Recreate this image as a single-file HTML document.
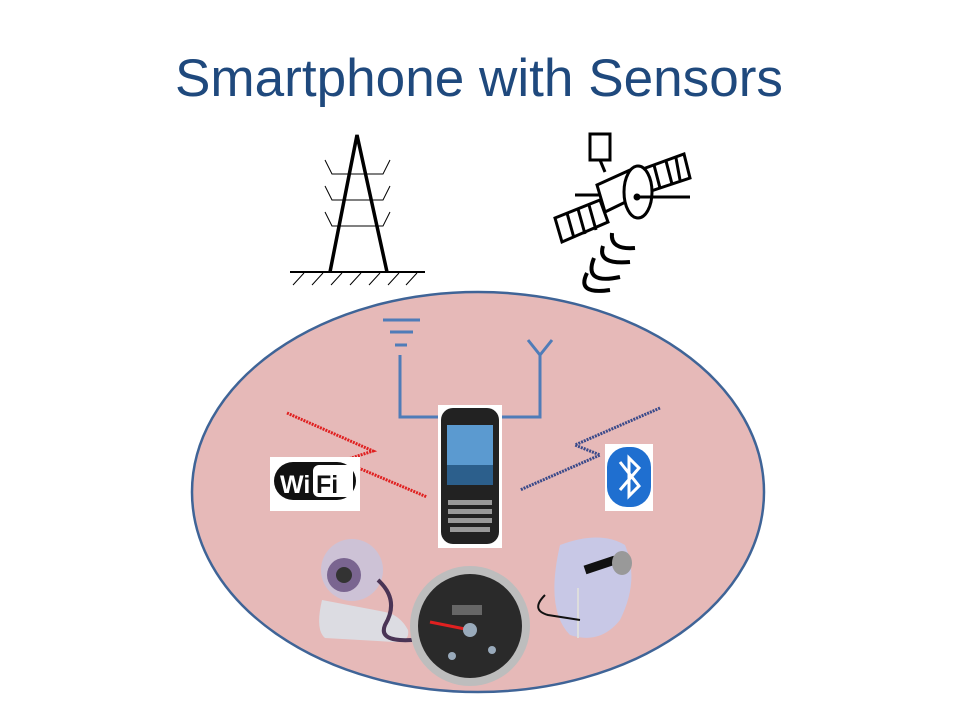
<!DOCTYPE html>
<html><head><style>html,body{margin:0;padding:0;background:#fff;width:960px;height:720px;overflow:hidden}</style></head>
<body>
<svg width="960" height="720" viewBox="0 0 960 720" xmlns="http://www.w3.org/2000/svg">
<text x="175" y="96" font-family="Liberation Sans, sans-serif" font-size="53" fill="#1f497d" textLength="608" lengthAdjust="spacingAndGlyphs">Smartphone with Sensors</text>
<!-- tower -->
<g stroke="#000" fill="none">
<path d="M330 272 L357 135 L387 272" stroke-width="3.5"/>
<line x1="290" y1="272" x2="425" y2="272" stroke-width="2"/>
<g stroke-width="1">
<path d="M293 285 L304 273 M312 285 L323 273 M331 285 L342 273 M350 285 L361 273 M369 285 L380 273 M388 285 L399 273 M406 285 L417 273"/>
<path d="M325 160 L332 174 L383 174 L390 160 M325 186 L332 200 L383 200 L390 186 M325 212 L332 226 L383 226 L390 212"/>
</g>
</g>
<!-- satellite -->
<g stroke="#000" stroke-width="3" fill="#fff">
<rect x="590" y="134" width="20" height="26"/>
<line x1="600" y1="160" x2="605" y2="172"/>
<polygon points="555,218 600,200 608,222 562,242"/>
<path d="M567 213 L574 238 M578 209 L585 234 M589 205 L596 230"/>
<polygon points="640,170 684,154 690,178 648,192"/>
<path d="M654 165 L660 188 M666 161 L672 184 M676 158 L680 180"/>
<polygon points="597,185 630,170 640,195 605,212"/>
<ellipse cx="638" cy="192" rx="14" ry="26"/>
<circle cx="637" cy="197" r="2" fill="#000"/>
<line x1="637" y1="197" x2="690" y2="197"/>
<line x1="575" y1="195" x2="600" y2="195"/>
<g fill="none" stroke-width="4">
<path d="M612 233 Q610 250 635 248"/>
<path d="M603 246 Q597 265 630 262"/>
<path d="M594 258 Q583 285 620 277"/>
<path d="M587 273 Q576 295 610 290"/>
</g>
</g>
<!-- ellipse -->
<ellipse cx="478" cy="492" rx="286" ry="200" fill="#e6b9b8" stroke="#3f6497" stroke-width="2.5"/>
<!-- antennas -->
<g stroke="#4f7cb8" stroke-width="3" fill="none">
<path d="M383 320 L420 320 M390 332 L413 332 M395 345 L407 345"/>
<path d="M400 355 L400 417 L540 417 L540 355 M528 340 L540 355 L552 340"/>
</g>
<!-- zigzags -->
<polyline points="287,413 373,451 342,461 427,497" fill="none" stroke="#e02020" stroke-width="3" stroke-dasharray="2,1"/>
<polyline points="660,408 575,445 600,455 520,490" fill="none" stroke="#3a4a8a" stroke-width="3" stroke-dasharray="2,1"/>
<!-- phone -->
<rect x="438" y="405" width="64" height="143" fill="#fff"/>
<rect x="441" y="408" width="58" height="136" rx="12" fill="#222"/>
<rect x="447" y="425" width="46" height="60" fill="#5b9ad0"/>
<rect x="447" y="465" width="46" height="20" fill="#2c5f8c"/>
<g fill="#999"><rect x="448" y="500" width="44" height="5"/><rect x="448" y="509" width="44" height="5"/><rect x="448" y="518" width="44" height="5"/><rect x="450" y="527" width="40" height="5"/></g>
<!-- wifi -->
<rect x="270" y="457" width="90" height="54" fill="#fff"/>
<rect x="274" y="462" width="82" height="38" rx="19" fill="#111"/>
<rect x="313" y="465" width="40" height="32" rx="6" fill="#fff"/>
<text x="280" y="493" font-family="Liberation Sans, sans-serif" font-weight="bold" font-size="25" fill="#fff">Wi</text>
<text x="316" y="493" font-family="Liberation Sans, sans-serif" font-weight="bold" font-size="25" fill="#111">Fi</text>
<!-- bluetooth -->
<rect x="605" y="444" width="48" height="67" fill="#fff"/>
<rect x="607" y="447" width="44" height="60" rx="20" fill="#1f6fd0"/>
<path d="M620 462 L639 486 L629 496 L629 458 L639 468 L620 490" fill="none" stroke="#fff" stroke-width="3"/>
<!-- webcam -->
<path d="M322 600 Q315 630 325 638 L395 642 Q410 642 408 630 Q400 615 385 612 Z" fill="#dcdce2"/>
<circle cx="352" cy="570" r="31" fill="#cdc2d6"/>
<circle cx="344" cy="575" r="17" fill="#7a6590"/>
<circle cx="344" cy="575" r="8" fill="#333"/>
<path d="M378 580 Q400 600 385 625 Q378 642 412 640" fill="none" stroke="#4a3455" stroke-width="4"/>
<!-- gauge -->
<circle cx="470" cy="626" r="60" fill="#bdbdbd"/>
<circle cx="470" cy="626" r="52" fill="#2a2a2a"/>
<rect x="452" y="605" width="30" height="10" fill="#666"/>
<line x1="430" y1="622" x2="470" y2="630" stroke="#e02020" stroke-width="3"/>
<circle cx="470" cy="630" r="7" fill="#9ab"/>
<circle cx="452" cy="656" r="4" fill="#9ab"/>
<circle cx="492" cy="650" r="4" fill="#9ab"/>
<!-- mic -->
<path d="M560 545 Q600 530 625 545 Q640 580 620 620 Q600 645 570 635 Q545 610 560 545 Z" fill="#c8c8e6"/>
<line x1="585" y1="570" x2="615" y2="560" stroke="#111" stroke-width="9"/>
<ellipse cx="622" cy="563" rx="10" ry="12" fill="#999"/>
<line x1="578" y1="588" x2="578" y2="638" stroke="#ddd" stroke-width="2"/>
<path d="M545 595 Q530 610 548 615 L580 620" fill="none" stroke="#111" stroke-width="2"/>
</svg>
</body></html>
